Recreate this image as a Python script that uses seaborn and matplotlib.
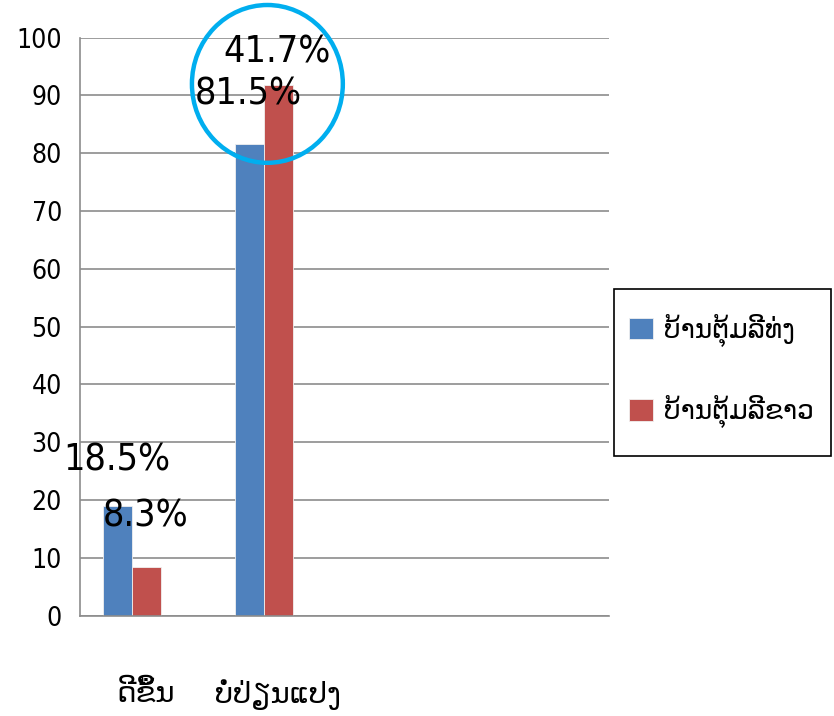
import matplotlib
matplotlib.use('Agg')
import matplotlib.pyplot as plt
from matplotlib.patches import Ellipse, Rectangle
import seaborn as sns
import numpy as np
import pandas as pd

# Data
categories = ['ດີຂຶ້ນ', 'ບໍ່ປ່ຽນແປງ']
series_names = ['ບ້ານຕຸ້ມລີທ່ງ', 'ບ້ານຕຸ້ມລີຂາວ', 'empty']
blue_values = [18.9, 81.6]
red_values = [8.4, 91.8]
empty_values = [np.nan, np.nan]  # third (empty) series of the original sheet
# free floating data labels as typed on the original chart
label_texts = ['18.5%', '8.3%', '81.5%', '41.7%']
label_x = [-0.22, 0.0, 0.77, 0.99]
label_y = [26.9, 17.1, 90.1, 97.5]
y_ticks = list(range(0, 101, 10))

colors = ['#4F81BD', '#C0504D', '#9BBB59']

df = pd.DataFrame({
    'category': categories * 3,
    'series': [s for s in series_names for _ in categories],
    'value': blue_values + red_values + empty_values,
})

sns.set_style('white')
plt.rcParams['font.family'] = ['DejaVu Sans']
plt.rcParams['font.stretch'] = 'condensed'
plt.rcParams['text.color'] = 'black'
plt.rcParams['xtick.color'] = 'black'
plt.rcParams['ytick.color'] = 'black'

fig = plt.figure(figsize=(8.34, 7.16), dpi=100)
ax = fig.add_axes([0.0959, 0.1401, 0.6343, 0.8073])

sns.barplot(data=df, x='category', y='value', hue='series', order=categories,
            hue_order=series_names, palette=colors, width=0.657, saturation=1,
            ax=ax, legend=False, edgecolor='#f0f0f0', linewidth=0.6)

ax.set_xlim(-0.5, 3.5)
ax.set_ylim(0, 100)
ax.set_yticks(y_ticks)
ax.set_yticklabels([str(t) for t in y_ticks], fontsize=19, fontstretch='condensed')
ax.yaxis.grid(True, color='#8c8c8c', linewidth=1.2)
ax.set_axisbelow(True)
ax.set_xlabel('')
ax.set_ylabel('')

for s in ['top', 'right']:
    ax.spines[s].set_visible(False)
for s in ['left', 'bottom']:
    ax.spines[s].set_color('#8c8c8c')
    ax.spines[s].set_linewidth(1.2)

ax.tick_params(axis='y', which='major', length=7, color='#8c8c8c', labelcolor='black',
               width=1.2, pad=6)
ax.set_xticks([0, 1])
ax.set_xticklabels(categories, family=['DejaVu Sans'], fontstretch='normal', fontsize=21)
ax.tick_params(axis='x', which='major', length=0, pad=46, labelcolor='black')
ax.set_xticks([-0.5, 0.5, 1.5, 2.5, 3.5], minor=True)
ax.tick_params(axis='x', which='minor', length=10, color='#8c8c8c', width=1.2)

for t, x, y in zip(label_texts, label_x, label_y):
    ax.text(x, y, t, ha='center', va='center', fontsize=27,
            fontstretch='condensed', color='black')

# highlight circle round the second group
ax.add_patch(Ellipse((0.917, 92.0), width=1.141, height=27.3, fill=False,
                     edgecolor='#00AEEF', linewidth=3.2, clip_on=False))

# legend entries without frame, the box drawn on its own
bars = [c for c in ax.containers][:2]
leg = ax.legend([b[0] for b in bars], series_names[:2], loc='center left',
                bbox_to_anchor=(624 / 834, 1 - 371 / 716),
                bbox_transform=fig.transFigure, frameon=False,
                prop={'family': 'DejaVu Sans', 'stretch': 'normal', 'size': 19},
                handlelength=0.9, handleheight=0.9, labelspacing=1.85,
                borderpad=0.2, handletextpad=0.4, borderaxespad=0)
for txt in leg.get_texts():
    txt.set_color('black')
fig.patches.append(Rectangle((614 / 834, 1 - 456 / 716), 217 / 834, 167 / 716,
                             transform=fig.transFigure, fill=False,
                             edgecolor='black', linewidth=1.2))

fig.savefig('out.png', dpi=100)
